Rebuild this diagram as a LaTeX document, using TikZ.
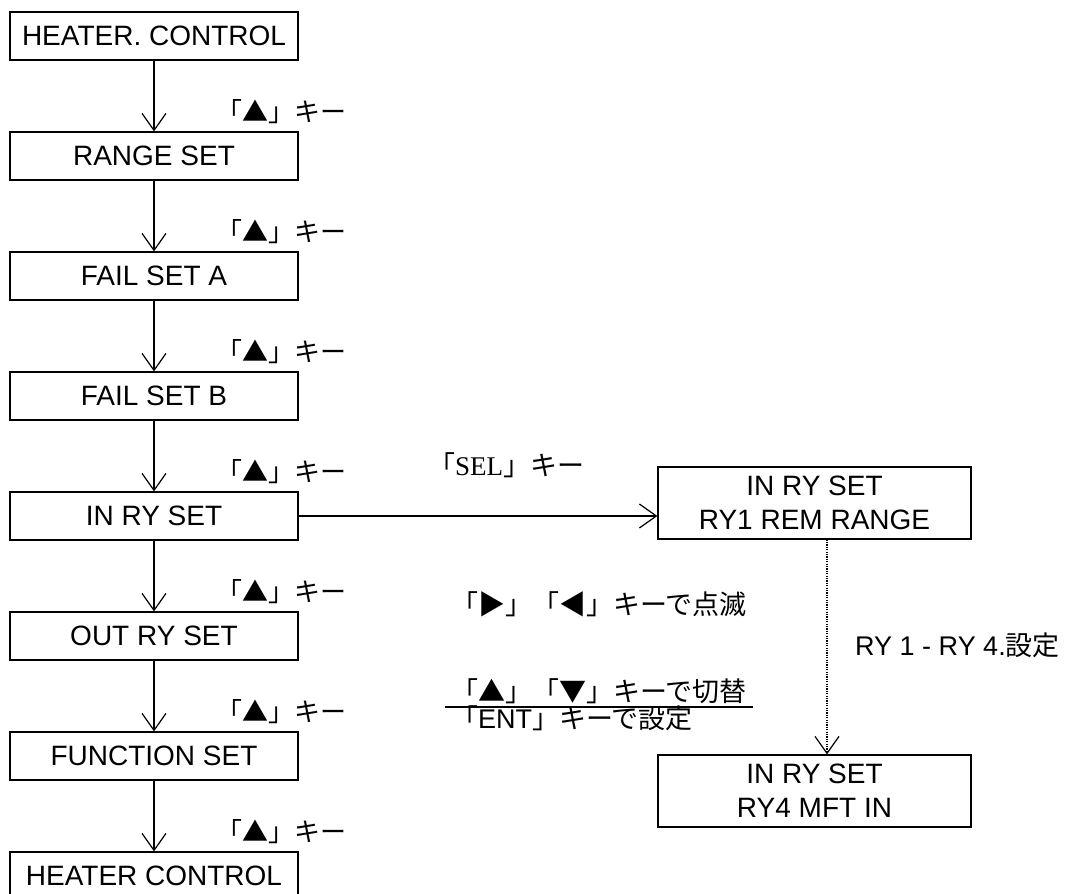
\documentclass[tikz,border=0pt]{standalone}
\usepackage{fontspec}
\setmainfont{Liberation Sans}
\newfontfamily\cjk{Noto Sans CJK JP}
\newfontfamily\serif{Liberation Serif}
\usetikzlibrary{arrows.meta}

\tikzset{
  menubox/.style={draw, line width=1.2pt, minimum width=288pt, minimum height=48pt,
    inner sep=0pt, font=\fontsize{28}{34}\selectfont},
  subbox/.style={draw, line width=1.2pt, minimum width=313pt, minimum height=72pt,
    inner sep=0pt, align=center, font=\fontsize{28}{34}\selectfont},
  keylbl/.style={anchor=west, inner sep=0pt, font=\cjk\fontsize{26}{30}\selectfont},
  flow/.style={line width=1.2pt, -{Straight Barb[length=17pt,width=24pt,line width=1.2pt]}},
}

\begin{document}
\begin{tikzpicture}[x=1pt, y=-1pt]
  \useasboundingbox (0,0) rectangle (1068,894);
  % main menu column
  \node[menubox] (heat)  at (154,36)  {HEATER. CONTROL};
  \node[menubox] (range) at (154,156) {RANGE SET};
  \node[menubox] (faila) at (154,276) {FAIL SET A};
  \node[menubox] (failb) at (154,396) {FAIL SET B};
  \node[menubox] (inry)  at (154,516) {IN RY SET};
  \node[menubox] (outry) at (154,636) {OUT RY SET};
  \node[menubox] (func)  at (154,756) {FUNCTION SET};
  \node[menubox] (heatb) at (154,876) {HEATER CONTROL};
  % up key arrows
  \draw[flow] (heat) -- (range);
  \draw[flow] (range) -- (faila);
  \draw[flow] (faila) -- (failb);
  \draw[flow] (failb) -- (inry);
  \draw[flow] (inry) -- (outry);
  \draw[flow] (outry) -- (func);
  \draw[flow] (func) -- (heatb);
  \node[keylbl] (up1) at (216,112) {「▲」キー};
  \node[keylbl] (up2) at (216,232) {「▲」キー};
  \node[keylbl] (up3) at (216,352) {「▲」キー};
  \node[keylbl] (up4) at (216,472) {「▲」キー};
  \node[keylbl] (up5) at (216,592) {「▲」キー};
  \node[keylbl] (up6) at (216,712) {「▲」キー};
  \node[keylbl] (up7) at (216,832) {「▲」キー};
  % relay sub menu
  \node[subbox] (ryfirst) at (814.5,503) {IN RY SET\\RY1 REM RANGE};
  \node[subbox] (rylast)  at (814.5,791) {IN RY SET\\RY4 MFT IN};
  \draw[flow] (inry.east) -- (inry.east -| ryfirst.west);
  \node[keylbl, font=\cjk\fontsize{27}{30}\selectfont] (sel) at (428,465) {「{\serif SEL}」キー};
  \draw[flow, dash pattern=on 1.2pt off 1.2pt]
    ([xshift=12.5pt]ryfirst.south) -- ([xshift=12.5pt]rylast.north);
  \node[keylbl, font=\cjk\fontsize{27}{30}\selectfont] (blink) at (451,604) {「▶」「◀」キーで点滅};
  \node[keylbl, font=\cjk\fontsize{27}{30}\selectfont] (swap)  at (451,691) {「▲」「▼」キーで切替};
  \node[keylbl, font=\cjk\fontsize{27}{30}\selectfont] (ent)   at (451,718) {「{\rmfamily ENT}」キーで設定};
  \coordinate (ulleft) at (445,707);
  \coordinate (ulright) at (753,707);
  \draw[line width=1.2pt] (ulleft) -- (ulright);
  \node[anchor=west, inner sep=0pt, font=\fontsize{27}{30}\selectfont] (rynum) at (855,645)
    {RY 1 - RY 4.{\cjk 設定}};
\end{tikzpicture}
\end{document}
